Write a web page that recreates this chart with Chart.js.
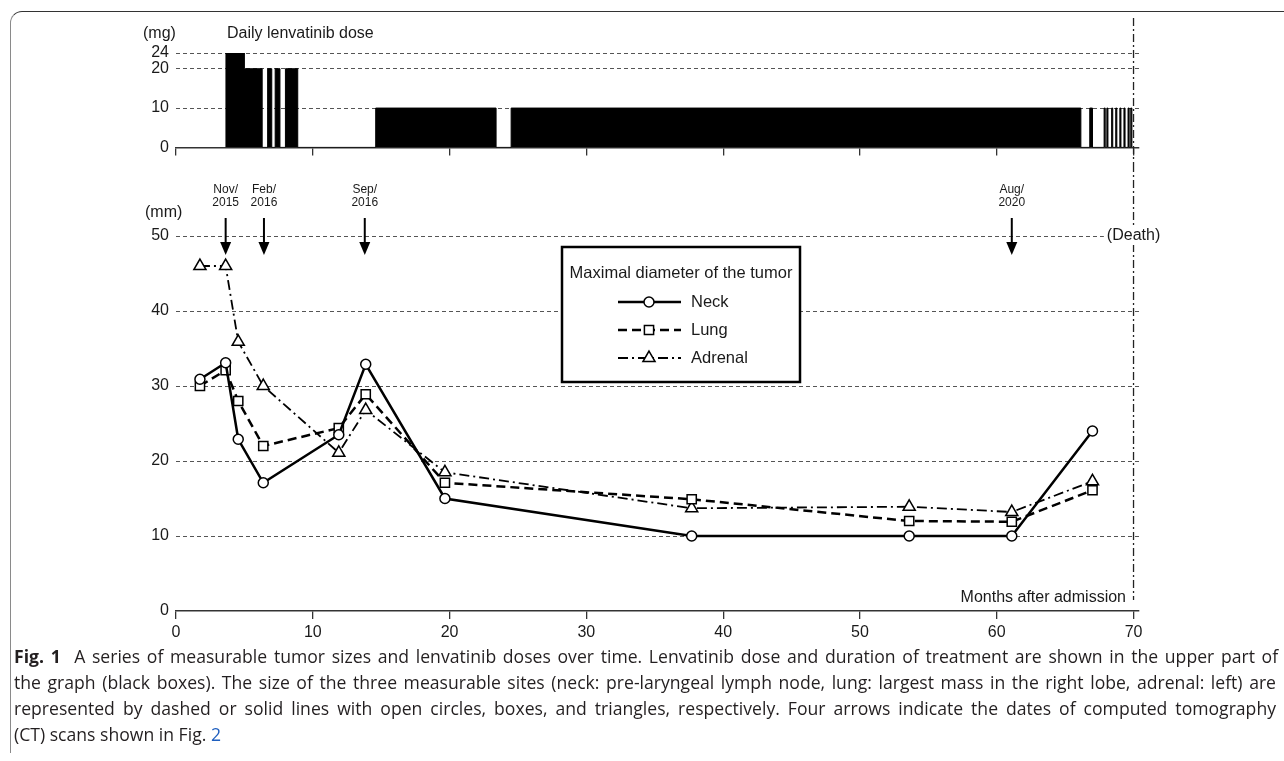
<!DOCTYPE html>
<html>
<head>
<meta charset="utf-8">
<script src="https://cdn.jsdelivr.net/npm/chart.js@4.4.1/dist/chart.umd.min.js"></script>
<style>
  body { margin: 0; background: #fff; width: 1284px; height: 761px; overflow: hidden; position: relative; }
  #frame { position: absolute; left: 10px; top: 11px; width: 1300px; height: 741px;
           border-left: 1px solid #8a8a8a; border-top: 1px solid #333; border-top-left-radius: 12px; }
  #doseCanvas { position: absolute; left: 0; top: 0; }
  #sizeCanvas { position: absolute; left: 0; top: 164px; }
  #caption { position: absolute; left: 14px; top: 643px; width: 1262px;
             font-family: "Open Sans", "Noto Sans", sans-serif; font-size: 17.6px; color: #231f20; }
  .ln { height: 26px; line-height: 26px; white-space: nowrap; }
  .ln b { font-weight: 700; }
</style>
</head>
<body>
<div id="frame"></div>
<canvas id="doseCanvas" width="1284" height="164"></canvas>
<canvas id="sizeCanvas" width="1284" height="481"></canvas>
<div id="caption">
  <div class="ln fit"><b>Fig. 1</b>&nbsp; A series of measurable tumor sizes and lenvatinib doses over time. Lenvatinib dose and duration of treatment are shown in the upper part of</div>
  <div class="ln fit">the graph (black boxes). The size of the three measurable sites (neck: pre-laryngeal lymph node, lung: largest mass in the right lobe, adrenal: left) are</div>
  <div class="ln fit">represented by dashed or solid lines with open circles, boxes, and triangles, respectively. Four arrows indicate the dates of computed tomography</div>
  <div class="ln">(CT) scans shown in Fig. <span style="color:#1f5fbf">2</span></div>
</div>
<script>
// dosing periods (months after admission) and daily dose in mg
const doseStart = [3.6, 5.0, 6.7, 7.25, 8.0, 14.6, 24.5, 66.8, 67.85, 68.05, 68.4, 68.7, 69.0, 69.3, 69.6, 69.8];
const doseEnd   = [5.0, 6.3, 7.0, 7.6, 8.9, 23.4, 66.15, 67.0, 67.93, 68.13, 68.48, 68.78, 69.08, 69.38, 69.68, 69.88];
const doseMg    = [24, 20, 20, 20, 20, 10, 10, 10, 10, 10, 10, 10, 10, 10, 10, 10];
const doseTicks = [0, 10, 20, 24];

// tumour sizes (mm)
const tumorMonths = [1.75, 3.63, 4.55, 6.38, 11.9, 13.87, 19.66, 37.7, 53.6, 61.1, 67.0];
const neckMm    = [30.9, 33.1, 22.9, 17.1, 23.5, 32.9, 15.0, 10.0, 10.0, 10.0, 24.0];
const lungMm    = [30.0, 32.1, 28.0, 22.0, 24.4, 28.9, 17.1, 14.9, 12.0, 11.9, 16.1];
const adrenalMm = [46.0, 46.0, 35.9, 30.0, 21.1, 26.8, 18.5, 13.7, 13.9, 13.2, 17.3];
const sizeTicks = [0, 10, 20, 30, 40, 50];

// CT scan arrows
const arrowMonths = [3.63, 6.43, 13.8, 61.1];
const arrowLabels = [['Nov/', '2015'], ['Feb/', '2016'], ['Sep/', '2016'], ['Aug/', '2020']];
const deathMonth = 70;

const FONT = '"Liberation Sans", Arial, sans-serif';
const INK = '#1a1a1a';

// stepped outline of the dose boxes
const dosePoints = [];
doseStart.forEach((s, i) => {
  dosePoints.push({ x: s, y: doseMg[i] });
  if (i === doseStart.length - 1 || doseStart[i + 1] !== doseEnd[i]) {
    dosePoints.push({ x: doseEnd[i], y: 0 });
  }
});

const xScaleBase = (h, showLabels) => ({
  type: 'linear', min: 0, max: 70.4,
  afterFit: s => { s.height = h; },
  ticks: { display: showLabels, stepSize: 10, includeBounds: false, color: INK, padding: 4, maxRotation: 0,
           font: { family: FONT, size: 16 } },
  grid: { drawOnChartArea: false, drawTicks: true, tickLength: 8, color: '#333', lineWidth: 1.3 },
  border: { display: true, color: '#333', width: 1.6 }
});

const yScaleBase = (min, max, tickValues) => ({
  min: min, max: max,
  afterFit: s => { s.width = 176; },
  afterBuildTicks: s => { s.ticks = tickValues.map(v => ({ value: v })); },
  ticks: { color: INK, padding: 7, font: { family: FONT, size: 16 } },
  grid: { drawTicks: false, lineWidth: 1, color: c => (c.tick && c.tick.value === 0) ? 'rgba(0,0,0,0)' : '#555' },
  border: { display: false, dash: [4, 3] }
});

function deathLine(ctx, x, y0, y1) {
  ctx.save();
  ctx.strokeStyle = '#222';
  ctx.lineWidth = 1.3;
  ctx.setLineDash([8, 3, 2, 3]);
  ctx.beginPath();
  ctx.moveTo(x, y0);
  ctx.lineTo(x, y1);
  ctx.stroke();
  ctx.restore();
}

// upper chart: daily dose
new Chart(document.getElementById('doseCanvas'), {
  type: 'line',
  data: {
    datasets: [{
      data: dosePoints,
      stepped: 'before',
      fill: 'origin',
      backgroundColor: '#000',
      borderColor: '#000',
      borderWidth: 1,
      pointRadius: 0
    }]
  },
  options: {
    responsive: false, animation: false,
    layout: { padding: { top: 53, right: 145, left: 0, bottom: 0 } },
    scales: { x: xScaleBase(13, false), y: yScaleBase(0, 24, doseTicks) },
    plugins: { legend: { display: false }, tooltip: { enabled: false } }
  },
  plugins: [{
    id: 'doseText',
    afterDraw(chart) {
      const { ctx, scales: { x } } = chart;
      ctx.save();
      ctx.fillStyle = INK;
      ctx.font = '16px ' + FONT;
      ctx.textBaseline = 'middle';
      ctx.fillText('(mg)', 143, 34);
      ctx.fillText('Daily lenvatinib dose', 227, 34);
      ctx.restore();
      deathLine(ctx, x.getPixelForValue(deathMonth), 18, 164);
    }
  }]
});

// lower chart: tumour size
const markerBase = { pointBackgroundColor: '#fff', pointBorderColor: '#000', pointBorderWidth: 1.5,
                     borderColor: '#000', fill: false, tension: 0, clip: false };
const seriesStyles = [
  { label: 'Neck', data: neckMm, borderWidth: 2.5, borderDash: [], pointStyle: 'circle', pointRadius: 5 },
  { label: 'Lung', data: lungMm, borderWidth: 2.5, borderDash: [9, 5], pointStyle: 'rect', pointRadius: 6.5 },
  { label: 'Adrenal', data: adrenalMm, borderWidth: 1.8, borderDash: [10, 4, 2, 4], pointStyle: 'triangle', pointRadius: 7 }
];

new Chart(document.getElementById('sizeCanvas'), {
  type: 'line',
  data: {
    datasets: seriesStyles.map(s => Object.assign({}, markerBase, s, {
      data: s.data.map((v, i) => ({ x: tumorMonths[i], y: v }))
    }))
  },
  options: {
    responsive: false, animation: false,
    layout: { padding: { top: 72, right: 145, left: 0, bottom: 0 } },
    scales: { x: xScaleBase(34, true), y: yScaleBase(0, 50, sizeTicks) },
    plugins: { legend: { display: false }, tooltip: { enabled: false } }
  },
  plugins: [{
    id: 'sizeText',
    afterDraw(chart) {
      const { ctx, chartArea: a, scales: { x, y } } = chart;
      const xd = x.getPixelForValue(deathMonth);
      deathLine(ctx, xd, 0, a.bottom - 11);

      ctx.save();
      ctx.fillStyle = INK;
      ctx.textBaseline = 'middle';
      ctx.font = '16px ' + FONT;
      ctx.fillText('(mm)', 145, a.top - 23);

      // death label over the line
      const y50 = y.getPixelForValue(50);
      const dw = ctx.measureText('(Death)').width;
      ctx.fillStyle = '#fff';
      ctx.fillRect(xd - dw / 2 - 3, y50 - 9, dw + 6, 18);
      ctx.fillStyle = INK;
      ctx.textAlign = 'center';
      ctx.fillText('(Death)', xd, y50);

      ctx.textAlign = 'right';
      ctx.fillText('Months after admission', 1126, a.bottom - 13);

      // arrows for CT dates
      ctx.font = '12px ' + FONT;
      ctx.textAlign = 'center';
      arrowMonths.forEach((m, i) => {
        const ax = x.getPixelForValue(m);
        ctx.fillStyle = INK;
        ctx.fillText(arrowLabels[i][0], ax, a.top - 46);
        ctx.fillText(arrowLabels[i][1], ax, a.top - 33);
        const top = a.top - 18, tip = a.top + 19;
        ctx.strokeStyle = '#000';
        ctx.lineWidth = 2;
        ctx.setLineDash([]);
        ctx.beginPath();
        ctx.moveTo(ax, top);
        ctx.lineTo(ax, tip - 10);
        ctx.stroke();
        ctx.fillStyle = '#000';
        ctx.beginPath();
        ctx.moveTo(ax - 5.5, tip - 13);
        ctx.lineTo(ax + 5.5, tip - 13);
        ctx.lineTo(ax, tip);
        ctx.closePath();
        ctx.fill();
      });

      // legend box
      const bx = 562, by = a.top + 11, bw = 238, bh = 135;
      ctx.fillStyle = '#fff';
      ctx.fillRect(bx, by, bw, bh);
      ctx.strokeStyle = '#000';
      ctx.lineWidth = 2.5;
      ctx.strokeRect(bx, by, bw, bh);
      ctx.fillStyle = INK;
      ctx.font = '16.5px ' + FONT;
      ctx.textAlign = 'center';
      ctx.fillText('Maximal diameter of the tumor', bx + bw / 2, by + 26);
      ctx.textAlign = 'left';
      seriesStyles.forEach((s, i) => {
        const ly = by + 55 + i * 28;
        ctx.save();
        ctx.strokeStyle = '#000';
        ctx.lineWidth = s.borderWidth;
        ctx.setLineDash(s.borderDash);
        ctx.beginPath();
        ctx.moveTo(618, ly);
        ctx.lineTo(681, ly);
        ctx.stroke();
        ctx.setLineDash([]);
        ctx.fillStyle = '#fff';
        ctx.lineWidth = 1.5;
        Chart.helpers.drawPoint(ctx, { pointStyle: s.pointStyle, radius: s.pointRadius, rotation: 0, borderWidth: 1.5 }, 649, ly);
        ctx.restore();
        ctx.fillStyle = INK;
        ctx.font = '16.5px ' + FONT;
        ctx.fillText(s.label, 691, ly);
      });
      ctx.restore();
    }
  }]
});

// stretch caption lines to the full column width
document.querySelectorAll('#caption .fit').forEach(el => {
  const span = document.createElement('span');
  span.innerHTML = el.innerHTML;
  el.innerHTML = '';
  el.appendChild(span);
  const spaces = (el.textContent.match(/ /g) || []).length;
  const extra = 1262 - span.getBoundingClientRect().width;
  el.style.wordSpacing = (extra / spaces) + 'px';
});
</script>
</body>
</html>
